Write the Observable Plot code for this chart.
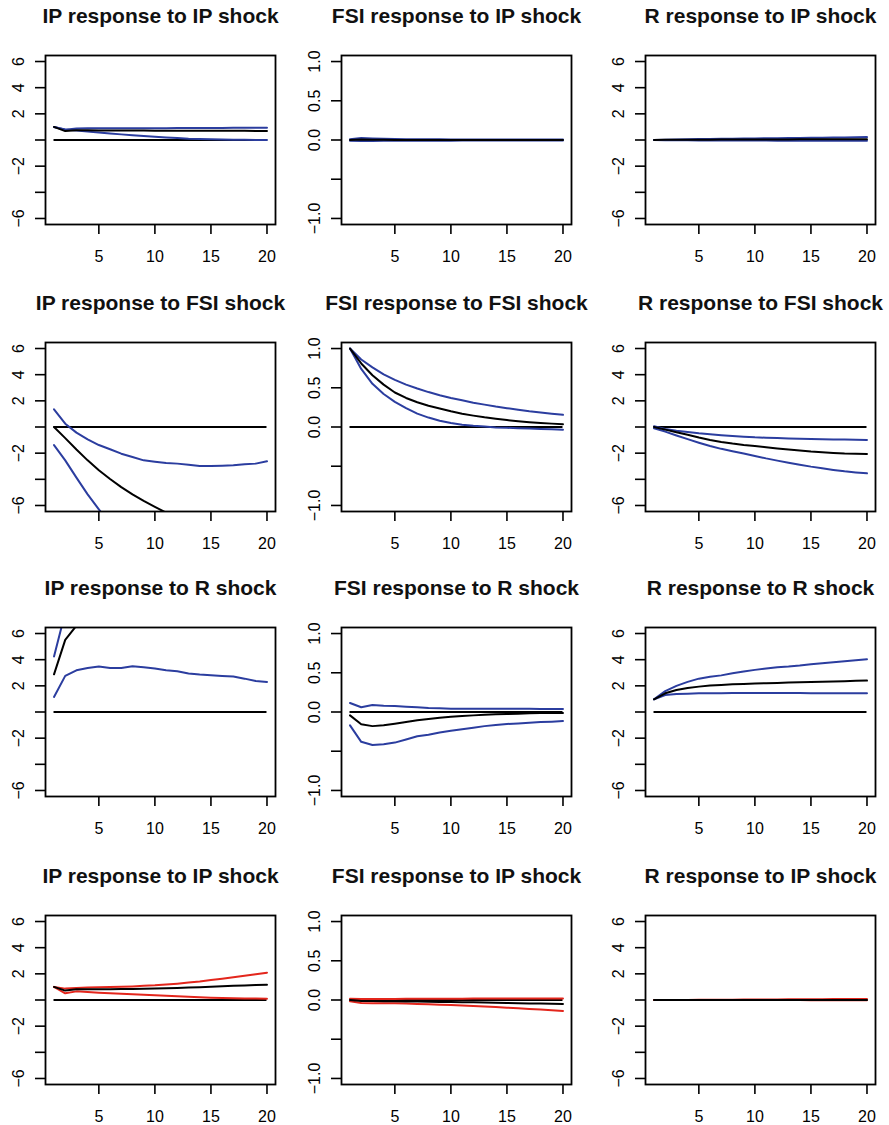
<!DOCTYPE html>
<html><head><meta charset="utf-8">
<script src="https://cdn.jsdelivr.net/npm/d3@7"></script>
<script src="https://cdn.jsdelivr.net/npm/@observablehq/plot@0.6"></script>
<style>
body{margin:0;background:#fff;}
#root{position:relative;width:889px;height:1125px;overflow:hidden;background:#fff;}
#root svg{position:absolute;}
</style></head><body><div id="root"></div>
<script>
// ---- data ----
const horizon = [1,2,3,4,5,6,7,8,9,10,11,12,13,14,15,16,17,18,19,20];
const xTicks = [5,10,15,20];
const ipTicks = [-6,-4,-2,0,2,4,6];
const ipTickLabels = ["−6","","−2","","2","4","6"];
const fsiTicks = [-1,-0.5,0,0.5,1];
const fsiTickLabels = ["−1.0","","0.0","0.5","1.0"];

const titles = [
  "IP response to IP shock","FSI response to IP shock","R response to IP shock",
  "IP response to FSI shock","FSI response to FSI shock","R response to FSI shock",
  "IP response to R shock","FSI response to R shock","R response to R shock",
  "IP response to IP shock","FSI response to IP shock","R response to IP shock"
];
const panelScales = ["ip","fsi","ip","ip","fsi","ip","ip","fsi","ip","ip","fsi","ip"];
const bandColors = ["blue","blue","blue","blue","blue","blue","blue","blue","blue","red","red","red"];

// row 1
const ipIp_hi  = [1.0,0.78,0.88,0.9,0.9,0.9,0.9,0.9,0.9,0.9,0.9,0.91,0.91,0.91,0.92,0.92,0.93,0.93,0.93,0.93];
const ipIp_mid = [1.0,0.68,0.74,0.74,0.73,0.73,0.72,0.72,0.72,0.71,0.71,0.71,0.71,0.7,0.7,0.7,0.7,0.7,0.69,0.69];
const ipIp_lo  = [1.0,0.8,0.72,0.64,0.57,0.5,0.43,0.37,0.31,0.25,0.2,0.15,0.1,0.07,0.05,0.03,0.02,0.01,0.0,0.0];

const fsiIp_hi  = [0.01,0.025,0.02,0.015,0.012,0.01,0.01,0.008,0.008,0.007,0.007,0.006,0.006,0.006,0.005,0.005,0.005,0.005,0.005,0.005];
const fsiIp_mid = [0,0.005,0.003,0.002,0.001,0,0,0,0,0,0,0,0,0,0,0,0,0,0,0];
const fsiIp_lo  = [-0.01,-0.012,-0.012,-0.01,-0.01,-0.009,-0.009,-0.008,-0.008,-0.008,-0.007,-0.007,-0.007,-0.007,-0.006,-0.006,-0.006,-0.006,-0.006,-0.006];

const rIp_hi  = [0.0,0.02,0.04,0.05,0.07,0.08,0.09,0.1,0.11,0.12,0.13,0.14,0.15,0.16,0.17,0.18,0.19,0.2,0.21,0.22];
const rIp_mid = [0.0,0.01,0.01,0.02,0.02,0.02,0.03,0.03,0.03,0.04,0.04,0.04,0.04,0.05,0.05,0.05,0.05,0.05,0.05,0.05];
const rIp_lo  = [0,-0.01,-0.02,-0.02,-0.03,-0.03,-0.03,-0.04,-0.04,-0.04,-0.04,-0.05,-0.05,-0.05,-0.05,-0.05,-0.05,-0.05,-0.05,-0.05];

// row 2
const ipFsi_hi  = [1.35,0.25,-0.43,-0.94,-1.38,-1.7,-2.04,-2.29,-2.55,-2.65,-2.75,-2.8,-2.88,-2.98,-2.98,-2.96,-2.93,-2.85,-2.8,-2.62];
const ipFsi_mid = [0,-0.85,-1.72,-2.55,-3.3,-3.98,-4.6,-5.15,-5.65,-6.1,-6.55,-6.95,-7.3,-7.6,-7.85,-8.05,-8.25,-8.4,-8.55,-8.65];
const ipFsi_lo  = [-1.38,-2.55,-3.87,-5.15,-6.3,-7.4,-8.4,-9.3,-10.1,-10.8,-11.4,-11.9,-12.3,-12.7,-13.0,-13.3,-13.5,-13.7,-13.9,-14.0];

const fsiFsi_hi  = [1.0,0.86,0.76,0.67,0.6,0.54,0.49,0.445,0.405,0.37,0.34,0.31,0.285,0.26,0.24,0.22,0.2,0.185,0.17,0.155];
const fsiFsi_mid = [1.0,0.81,0.66,0.54,0.44,0.37,0.315,0.27,0.235,0.2,0.17,0.145,0.123,0.105,0.088,0.074,0.062,0.052,0.043,0.035];
const fsiFsi_lo  = [1.0,0.74,0.55,0.42,0.32,0.24,0.17,0.12,0.08,0.05,0.03,0.015,0.005,-0.005,-0.01,-0.015,-0.02,-0.025,-0.03,-0.035];

const rFsi_hi  = [0.05,-0.15,-0.28,-0.38,-0.48,-0.56,-0.63,-0.69,-0.74,-0.79,-0.82,-0.85,-0.88,-0.9,-0.92,-0.93,-0.95,-0.96,-0.98,-0.99];
const rFsi_mid = [0,-0.2,-0.4,-0.6,-0.81,-1.0,-1.15,-1.27,-1.37,-1.45,-1.55,-1.64,-1.72,-1.8,-1.88,-1.93,-1.98,-2.02,-2.04,-2.06];
const rFsi_lo  = [-0.1,-0.35,-0.65,-0.93,-1.2,-1.45,-1.67,-1.85,-2.03,-2.21,-2.4,-2.57,-2.73,-2.88,-3.03,-3.16,-3.28,-3.39,-3.47,-3.54];

// row 3
const ipR_hi  = [4.25,7.6,9.3,10.2,10.6,10.8,10.9,10.9,10.8,10.7,10.5,10.3,10.1,9.9,9.7,9.5,9.3,9.1,8.9,8.7];
const ipR_mid = [2.88,5.51,6.6,7.1,7.4,7.5,7.5,7.5,7.45,7.4,7.3,7.2,7.1,7.0,6.95,6.9,6.85,6.8,6.75,6.7];
const ipR_lo  = [1.15,2.76,3.19,3.37,3.47,3.37,3.37,3.5,3.42,3.32,3.19,3.11,2.94,2.86,2.81,2.76,2.71,2.55,2.37,2.3];

const fsiR_hi  = [0.115,0.06,0.09,0.08,0.077,0.068,0.06,0.05,0.047,0.043,0.04,0.04,0.04,0.04,0.04,0.04,0.04,0.038,0.038,0.038];
const fsiR_mid = [-0.043,-0.157,-0.18,-0.17,-0.15,-0.128,-0.106,-0.09,-0.072,-0.06,-0.05,-0.043,-0.034,-0.03,-0.026,-0.021,-0.017,-0.013,-0.013,-0.013];
const fsiR_lo  = [-0.17,-0.38,-0.42,-0.41,-0.39,-0.35,-0.31,-0.29,-0.26,-0.24,-0.22,-0.2,-0.18,-0.166,-0.153,-0.145,-0.136,-0.128,-0.123,-0.115];

const rR_hi  = [0.97,1.6,2.0,2.3,2.55,2.7,2.8,2.96,3.09,3.22,3.32,3.42,3.47,3.55,3.65,3.73,3.8,3.88,3.96,4.03];
const rR_mid = [0.97,1.43,1.68,1.84,1.94,2.02,2.07,2.12,2.15,2.17,2.2,2.22,2.25,2.28,2.3,2.32,2.34,2.36,2.38,2.4];
const rR_lo  = [0.97,1.3,1.38,1.4,1.43,1.44,1.44,1.45,1.45,1.45,1.45,1.45,1.45,1.45,1.44,1.44,1.44,1.44,1.43,1.43];

// row 4 (red bands)
const ipIp2_hi  = [1.0,0.87,0.92,0.95,0.97,0.99,1.01,1.04,1.08,1.12,1.18,1.25,1.33,1.42,1.53,1.63,1.74,1.85,1.97,2.09];
const ipIp2_mid = [1.0,0.72,0.82,0.82,0.82,0.83,0.84,0.85,0.86,0.87,0.89,0.92,0.95,0.98,1.02,1.05,1.08,1.11,1.14,1.17];
const ipIp2_lo  = [1.0,0.51,0.66,0.61,0.56,0.52,0.48,0.44,0.4,0.36,0.32,0.28,0.25,0.21,0.18,0.16,0.14,0.12,0.11,0.1];

const fsiIp2_hi  = [0.017,0.012,0.012,0.013,0.014,0.015,0.015,0.016,0.016,0.017,0.017,0.018,0.018,0.018,0.019,0.019,0.019,0.02,0.02,0.02];
const fsiIp2_mid = [0,-0.013,-0.014,-0.015,-0.017,-0.018,-0.02,-0.022,-0.024,-0.026,-0.028,-0.03,-0.032,-0.034,-0.038,-0.041,-0.044,-0.046,-0.049,-0.051];
const fsiIp2_lo  = [-0.017,-0.038,-0.04,-0.042,-0.043,-0.046,-0.05,-0.054,-0.059,-0.064,-0.07,-0.076,-0.082,-0.089,-0.098,-0.106,-0.114,-0.122,-0.131,-0.14];

const rIp2_hi  = [0,0,0,0.005,0.01,0.015,0.02,0.025,0.03,0.035,0.04,0.045,0.05,0.055,0.06,0.065,0.07,0.075,0.08,0.085];
const rIp2_mid = [0,0,0,0,0,0,0,0,0,0,0,0,0,0,0,0,0,0,0,0];
const rIp2_lo  = [0,0,0,0,0,0,0,0,0,0,0,0,-0.005,-0.005,-0.01,-0.01,-0.01,-0.015,-0.015,-0.02];

const lowerSeries = [ipIp_lo,fsiIp_lo,rIp_lo,ipFsi_lo,fsiFsi_lo,rFsi_lo,ipR_lo,fsiR_lo,rR_lo,ipIp2_lo,fsiIp2_lo,rIp2_lo];
const midSeries   = [ipIp_mid,fsiIp_mid,rIp_mid,ipFsi_mid,fsiFsi_mid,rFsi_mid,ipR_mid,fsiR_mid,rR_mid,ipIp2_mid,fsiIp2_mid,rIp2_mid];
const upperSeries = [ipIp_hi,fsiIp_hi,rIp_hi,ipFsi_hi,fsiFsi_hi,rFsi_hi,ipR_hi,fsiR_hi,rR_hi,ipIp2_hi,fsiIp2_hi,rIp2_hi];

// ---- layout / style ----
const colorMap = {blue: "#2b3d9f", red: "#e3261c"};
const boxLeft = [45, 341, 645];
const boxTop = [55, 342, 627, 915];
const M = {left: 45, right: 14, top: 55, bottom: 40};
const boxW = 230, boxH = 169;
const font = "'Liberation Sans', Arial, Helvetica, sans-serif";

const root = document.getElementById("root");
titles.forEach((title, i) => {
  const row = Math.floor(i / 3), col = i % 3;
  const ip = panelScales[i] === "ip";
  const ticks = ip ? ipTicks : fsiTicks;
  const labs = ip ? ipTickLabels : fsiTickLabels;
  const col_ = colorMap[bandColors[i]];
  const data = horizon.map((h, k) => ({h, lo: lowerSeries[i][k], mid: midSeries[i][k], hi: upperSeries[i][k]}));
  const svg = Plot.plot({
    width: M.left + boxW + M.right,
    height: M.top + boxH + M.bottom,
    marginLeft: M.left, marginRight: M.right, marginTop: M.top, marginBottom: M.bottom,
    x: {domain: [0.24, 20.76]},
    y: {domain: ip ? [-6.46, 6.46] : [-1.077, 1.077]},
    style: {fontFamily: font, color: "#000", background: "transparent", overflow: "visible"},
    marks: [
      Plot.axisX({ticks: xTicks, tickSize: 10, tickPadding: 16, fontSize: 16, strokeWidth: 1.6, label: null, tickFormat: d => String(d)}),
      Plot.axisY({ticks, tickSize: 10, tickPadding: 12, tickRotate: -90, fontSize: 16, strokeWidth: 1.6, label: null,
                  tickFormat: d => labs[ticks.indexOf(d)]}),
      Plot.ruleY([0], {x1: 1, x2: 20, stroke: "#000", strokeWidth: 1.8}),
      Plot.lineY(data, {x: "h", y: "lo", stroke: col_, strokeWidth: 2, clip: true}),
      Plot.lineY(data, {x: "h", y: "hi", stroke: col_, strokeWidth: 2, clip: true}),
      Plot.lineY(data, {x: "h", y: "mid", stroke: "#000", strokeWidth: 2, clip: true}),
      Plot.frame({stroke: "#000", strokeWidth: 1.8}),
      Plot.text([title], {text: d => d, frameAnchor: "top", dy: -33, lineAnchor: "bottom",
                          fontSize: 21, fontWeight: "bold", fill: "#111"})
    ]
  });
  svg.style.position = "absolute";
  svg.style.left = (boxLeft[col] - M.left) + "px";
  svg.style.top = (boxTop[row] - M.top) + "px";
  root.appendChild(svg);
});
</script>
</body></html>
